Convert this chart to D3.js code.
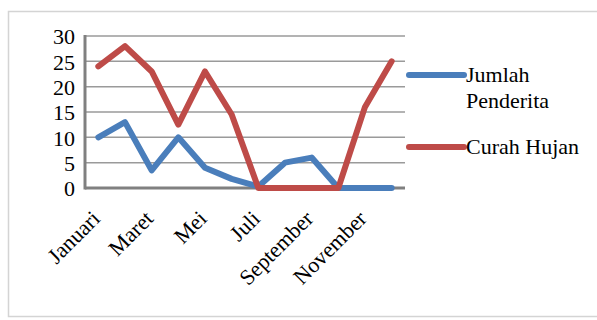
<!DOCTYPE html>
<html>
<head>
<meta charset="utf-8">
<script src="https://cdn.jsdelivr.net/npm/d3@7"></script>
<style>
  body { margin: 0; background: #fff; }
</style>
</head>
<body>
<div id="chart"></div>
<script>
// months on the x axis
var months = ["Januari", "Februari", "Maret", "April", "Mei", "Juni",
              "Juli", "Agustus", "September", "Oktober", "November", "Desember"];
// patients per month
var penderita = [10, 13, 3.5, 10, 4, 1.8, 0.3, 5, 6, 0, 0, 0];
// rainfall per month
var curahHujan = [24, 28, 23, 12.5, 23, 14.5, 0, 0, 0, 0, 16, 25];
var yTicks = [0, 5, 10, 15, 20, 25, 30];
var seriesNames = [["Jumlah", "Penderita"], ["Curah Hujan"]];
var colors = ["#4a7ebb", "#be4b48"];

var font = "'Liberation Serif', 'Times New Roman', serif";
var width = 597, height = 320;
var margin = {top: 36, right: 192, bottom: 132, left: 85};

var svg = d3.select("#chart").append("svg")
    .attr("width", width)
    .attr("height", height);

// outer chart frame
svg.append("rect")
    .attr("x", 8.5).attr("y", 11.5)
    .attr("width", 600).attr("height", 305)
    .attr("fill", "none")
    .attr("stroke", "#d4d4d4")
    .attr("stroke-width", 1.5);

var x = d3.scaleBand()
    .domain(months)
    .range([margin.left, width - margin.right]);

var y = d3.scaleLinear()
    .domain([0, 30])
    .range([height - margin.bottom, margin.top]);

// gridlines
svg.append("g")
    .selectAll("line")
    .data(yTicks.slice(1))
    .join("line")
    .attr("x1", margin.left).attr("x2", width - margin.right)
    .attr("y1", function(d) { return y(d); })
    .attr("y2", function(d) { return y(d); })
    .attr("stroke", "#9a9a9a")
    .attr("stroke-width", 1.5);

// y axis labels
var yAxis = d3.axisLeft(y).tickValues(yTicks).tickSize(0).tickPadding(10);
svg.append("g")
    .attr("transform", "translate(" + margin.left + ",0)")
    .attr("font-family", null)
    .call(yAxis)
    .call(function(g) { g.select(".domain").remove(); })
    .selectAll("text")
    .style("font-family", font)
    .style("font-size", "22px")
    .attr("fill", "#000")
    .attr("dy", "0.36em");

// axis lines
svg.append("line")
    .attr("x1", margin.left).attr("x2", margin.left)
    .attr("y1", margin.top - 1).attr("y2", y(0) + 1.5)
    .attr("stroke", "#808080").attr("stroke-width", 3);
svg.append("line")
    .attr("x1", margin.left).attr("x2", width - margin.right)
    .attr("y1", y(0)).attr("y2", y(0))
    .attr("stroke", "#808080").attr("stroke-width", 3);

// lines
var line = d3.line()
    .x(function(d, i) { return x(months[i]) + x.bandwidth() / 2; })
    .y(function(d) { return y(d); });

[penderita, curahHujan].forEach(function(s, k) {
    svg.append("path")
        .datum(s)
        .attr("fill", "none")
        .attr("stroke", colors[k])
        .attr("stroke-width", 6)
        .attr("stroke-linejoin", "round")
        .attr("stroke-linecap", "round")
        .attr("d", line);
});

// x labels, every other month, rotated
svg.append("g")
    .selectAll("text")
    .data(months.filter(function(d, i) { return i % 2 === 0; }))
    .join("text")
    .attr("transform", function(d) {
        return "translate(" + (x(d) + x.bandwidth() / 2 + 3) + "," + (y(0) + 32) + ") rotate(-45)";
    })
    .attr("text-anchor", "end")
    .style("font-family", font)
    .style("font-size", "22px")
    .text(function(d) { return d; });

// legend
var legendY = [75, 147];
seriesNames.forEach(function(lines, k) {
    svg.append("line")
        .attr("x1", 409).attr("x2", 464)
        .attr("y1", legendY[k]).attr("y2", legendY[k])
        .attr("stroke", colors[k])
        .attr("stroke-width", 6)
        .attr("stroke-linecap", "round");
    var t = svg.append("text")
        .attr("x", 466)
        .attr("y", legendY[k] + 7)
        .style("font-family", font)
        .style("font-size", "22px");
    lines.forEach(function(l, j) {
        t.append("tspan")
            .attr("x", 466)
            .attr("dy", j === 0 ? 0 : 26)
            .text(l);
    });
});
</script>
</body>
</html>
